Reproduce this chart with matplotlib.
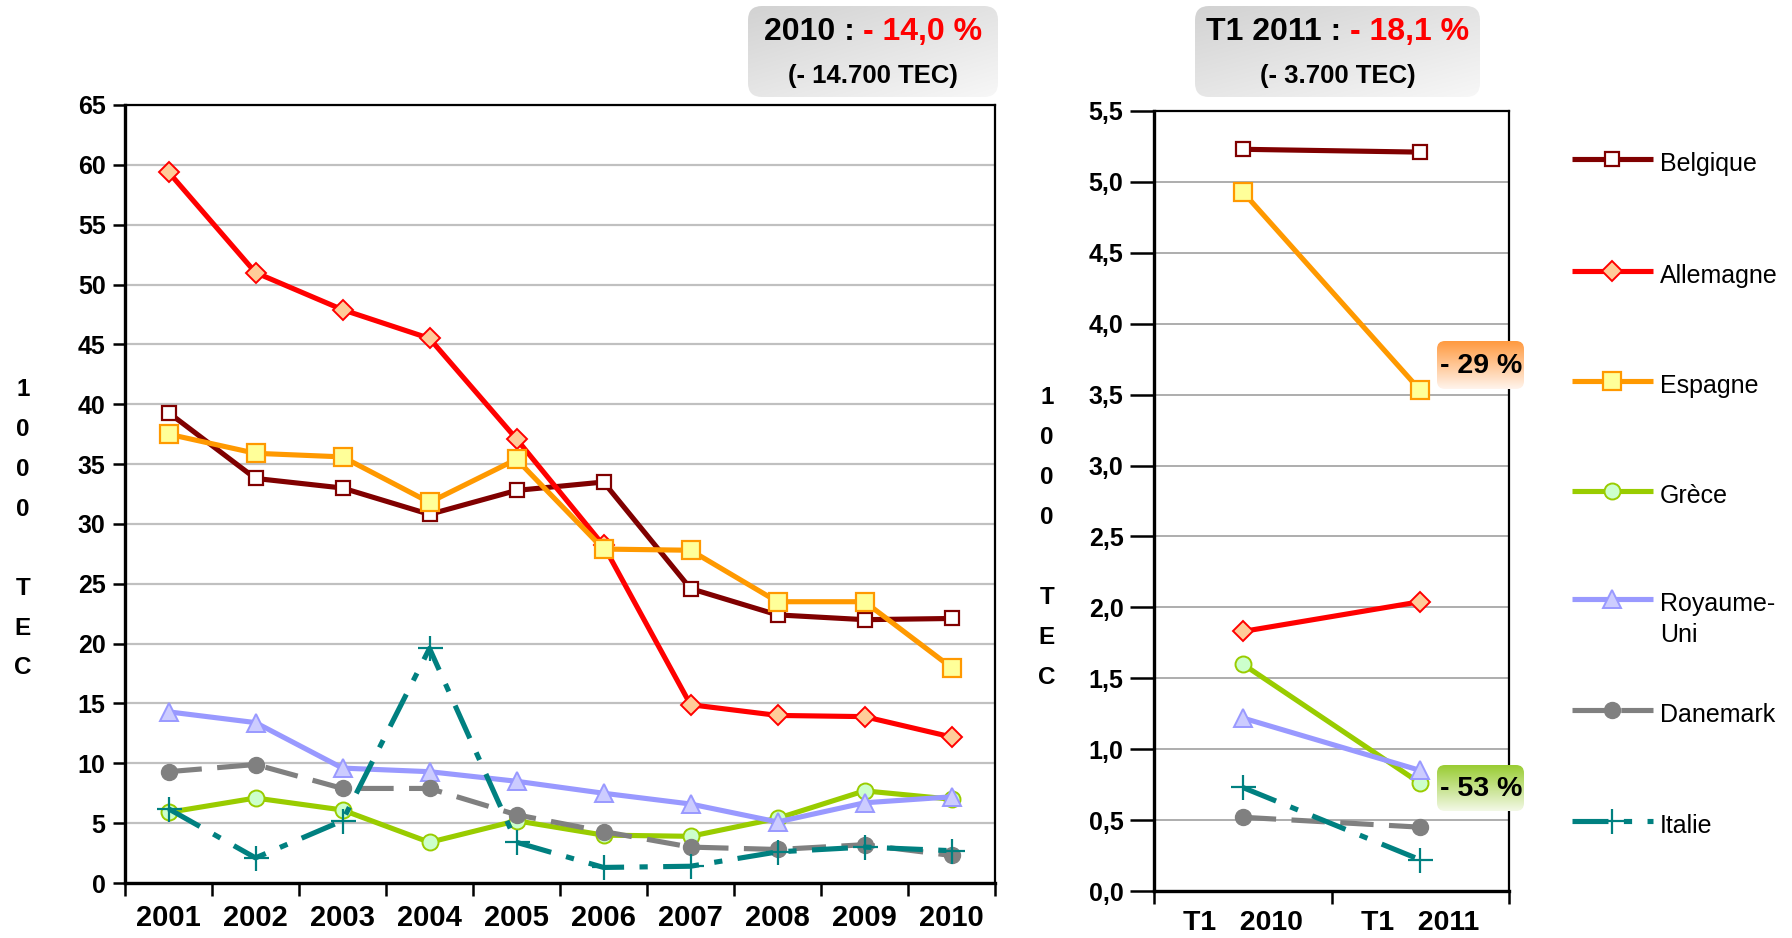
import numpy as np
import matplotlib
matplotlib.use('Agg')
import matplotlib.pyplot as plt
from matplotlib.patches import FancyBboxPatch
from matplotlib.colors import to_rgb

plt.rcParams['font.family'] = ['Liberation Sans', 'DejaVu Sans']

# ---------------- data ----------------
years = ['2001', '2002', '2003', '2004', '2005', '2006', '2007', '2008', '2009', '2010']
belgique = [39.3, 33.8, 33.0, 30.8, 32.8, 33.5, 24.6, 22.4, 22.0, 22.1]
allemagne = [59.4, 51.0, 47.9, 45.5, 37.1, 28.2, 14.9, 14.0, 13.9, 12.2]
espagne = [37.5, 35.9, 35.6, 31.8, 35.4, 27.9, 27.8, 23.5, 23.5, 18.0]
grece = [5.9, 7.1, 6.1, 3.4, 5.2, 4.0, 3.9, 5.4, 7.7, 7.0]
royaume_uni = [14.3, 13.4, 9.6, 9.3, 8.5, 7.5, 6.6, 5.1, 6.7, 7.2]
danemark = [9.3, 9.9, 7.9, 7.9, 5.7, 4.3, 3.0, 2.8, 3.2, 2.3]
italie = [6.2, 2.1, 5.2, 19.6, 3.4, 1.3, 1.4, 2.6, 3.0, 2.7]

quarters = ['T1   2010', 'T1   2011']
belgique_t1 = [5.23, 5.21]
allemagne_t1 = [1.83, 2.04]
espagne_t1 = [4.93, 3.53]
grece_t1 = [1.60, 0.76]
royaume_uni_t1 = [1.22, 0.85]
danemark_t1 = [0.52, 0.45]
italie_t1 = [0.73, 0.22]

names = ['Belgique', 'Allemagne', 'Espagne', 'Grèce', 'Royaume-\nUni', 'Danemark', 'Italie']
annual = [belgique, allemagne, espagne, grece, royaume_uni, danemark, italie]
quarterly = [belgique_t1, allemagne_t1, espagne_t1, grece_t1, royaume_uni_t1, danemark_t1, italie_t1]

title_left = [('2010 : ', 'black'), ('- 14,0 %', '#FF0000')]
sub_left = '(- 14.700 TEC)'
title_right = [('T1 2011 : ', 'black'), ('- 18,1 %', '#FF0000')]
sub_right = '(- 3.700 TEC)'
ann_es = '- 29 %'
ann_gr = '- 53 %'
ylabel_chars = ['1', '0', '0', '0', '', 'T', 'E', 'C']

LW = 3.7
styles = [
    dict(color='#800000', marker='s', mfc='white', mec='#800000', ms=10, mew=1.6, ls='-'),
    dict(color='#FF0000', marker='D', mfc='#FFCC99', mec='#FF0000', ms=10, mew=1.4, ls='-'),
    dict(color='#FF9900', marker='s', mfc='#FFFF99', mec='#FF9900', ms=12.5, mew=1.6, ls='-'),
    dict(color='#99CC00', marker='o', mfc='#CCFFCC', mec='#99CC00', ms=11.5, mew=1.4, ls='-'),
    dict(color='#9999FF', marker='^', mfc='#CCCCFF', mec='#9999FF', ms=12.5, mew=1.4, ls='-'),
    dict(color='#808080', marker='o', mfc='#808080', mec='#808080', ms=11.5, mew=1.0, ls=(0, (6.5, 3))),
    dict(color='#008080', marker='+', mfc='#008080', mec='#008080', ms=18, mew=1.6, ls=(0, (7, 3, 1.6, 3))),
]

W, H = 1792, 938
fig = plt.figure(figsize=(W / 100, H / 100), dpi=100)

def px_axes(x0, y0, x1, y1):
    return fig.add_axes([x0 / W, 1 - y1 / H, (x1 - x0) / W, (y1 - y0) / H])

ax1 = px_axes(125, 105, 995, 883)
ax2 = px_axes(1154, 111, 1509, 891)

# ---------------- left panel ----------------
x1 = np.arange(len(years))
for vals, st in zip(annual, styles):
    ax1.plot(x1, vals, lw=LW, solid_capstyle='butt', dash_capstyle='butt', clip_on=False, **st)
ax1.set_xlim(-0.5, len(years) - 0.5)
ax1.set_ylim(0, 65)
ax1.set_yticks(np.arange(0, 66, 5))
ax1.set_xticks(np.arange(-0.5, len(years), 1))
ax1.set_xticklabels([])
ax1.set_xticks(x1, minor=True)
ax1.set_xticklabels(years, minor=True)
ax1.tick_params(axis='x', which='major', direction='out', length=9, width=1.8)
ax1.tick_params(axis='x', which='minor', length=0, pad=15, labelsize=21)
ax1.tick_params(axis='y', direction='out', length=9, width=1.8, pad=5, labelsize=18)
ax1.yaxis.grid(True, color='#C0C0C0', lw=1.6)
ax1.set_axisbelow(True)

# ---------------- right panel ----------------
x2 = np.arange(len(quarters))
for vals, st in zip(quarterly, styles):
    ax2.plot(x2, vals, lw=LW, solid_capstyle='butt', dash_capstyle='butt', clip_on=False, **st)
ax2.set_xlim(-0.5, len(quarters) - 0.5)
ax2.set_ylim(0, 5.5)
yt2 = np.arange(0, 5.51, 0.5)
ax2.set_yticks(yt2)
ax2.set_yticklabels([f'{v:.1f}'.replace('.', ',') for v in yt2])
ax2.set_xticks(np.arange(-0.5, len(quarters), 1))
ax2.set_xticklabels([])
ax2.set_xticks(x2, minor=True)
ax2.set_xticklabels(quarters, minor=True)
ax2.tick_params(axis='x', which='major', direction='out', length=9, width=1.8)
ax2.tick_params(axis='x', which='minor', length=0, pad=14, labelsize=20.5)
ax2.tick_params(axis='y', direction='out', length=17, width=1.8, pad=5, labelsize=18)
ax2.yaxis.grid(True, color='#A0A0A0', lw=1.2)
ax2.set_axisbelow(True)

for ax in (ax1, ax2):
    for lab in ax.get_xticklabels(minor=True) + ax.get_yticklabels():
        lab.set_fontweight('bold')
    for s in ('left', 'bottom'):
        ax.spines[s].set_linewidth(2.4)
    for s in ('top', 'right'):
        ax.spines[s].set_linewidth(1.6)

# ---------------- overlay (pixel coordinates) ----------------
ov = fig.add_axes([0, 0, 1, 1], facecolor='none')
ov.set_xlim(0, W)
ov.set_ylim(H, 0)
ov.axis('off')

def gradient_box(x0, y0, x1_, y1_, c_top, c_bot, radius, diag=0.0):
    n = 64
    v = np.linspace(0, 1, n)[:, None]
    u = np.linspace(0, 1, n)[None, :]
    t = np.clip(v * (1 - diag) + u * diag, 0, 1)
    ct = np.array(to_rgb(c_top)); cb = np.array(to_rgb(c_bot))
    img = ct[None, None, :] * (1 - t[..., None]) + cb[None, None, :] * t[..., None]
    im = ov.imshow(img, extent=(x0, x1_, y1_, y0), aspect='auto', zorder=5, interpolation='bilinear')
    patch = FancyBboxPatch((x0, y0), x1_ - x0, y1_ - y0,
                           boxstyle=f'round,pad=0,rounding_size={radius}',
                           facecolor='none', edgecolor='none', zorder=5)
    ov.add_patch(patch)
    im.set_clip_path(patch)

def multi_color_text(xc, y, parts, fs):
    renderer = fig.canvas.get_renderer()
    texts, widths = [], []
    for s, c in parts:
        t = ov.text(0, y, s, color=c, fontsize=fs, fontweight='bold',
                    ha='left', va='center', zorder=6)
        widths.append(t.get_window_extent(renderer).width)
        texts.append(t)
    x = xc - sum(widths) / 2
    for t, w in zip(texts, widths):
        t.set_x(x)
        x += w

# title boxes
gradient_box(748, 6, 998, 97, '#D2D2D2', '#F7F7F7', 14, diag=0.45)
multi_color_text(873, 32, title_left, 23)
ov.text(873, 76, sub_left, fontsize=18.5, fontweight='bold', ha='center', va='center', zorder=6)

gradient_box(1195, 6, 1480, 97, '#D2D2D2', '#F7F7F7', 14, diag=0.45)
multi_color_text(1338, 32, title_right, 23)
ov.text(1338, 76, sub_right, fontsize=18.5, fontweight='bold', ha='center', va='center', zorder=6)

# percentage boxes
gradient_box(1437, 341, 1524, 389, '#FF9A40', '#FFF4EC', 8)
ov.text(1481, 366, ann_es, fontsize=20.5, fontweight='bold', ha='center', va='center', zorder=6)
gradient_box(1437, 765, 1524, 811, '#99CC33', '#F3F9E6', 8)
ov.text(1481, 789, ann_gr, fontsize=20.5, fontweight='bold', ha='center', va='center', zorder=6)

# vertical axis labels
for x_lab, y_first, y_last in ((23, 390, 668), (1047, 397, 677)):
    ys = np.linspace(y_first, y_last, len(ylabel_chars))
    for ch, yy in zip(ylabel_chars, ys):
        if ch:
            ov.text(x_lab, yy, ch, fontsize=17.5, fontweight='bold', ha='center', va='center')

# legend
leg_rows = [159, 271, 381, 491, 599, 710, 821]
for name, st, yy in zip(names, styles, leg_rows):
    ov.plot([1572, 1612, 1653], [yy, yy, yy], lw=LW, markevery=[1],
            solid_capstyle='butt', dash_capstyle='butt', **st)
    lines = name.split('\n')
    for k, ln in enumerate(lines):
        ov.text(1660, yy + 5 + k * 31, ln, fontsize=18, ha='left', va='center')

ov.set_xlim(0, W)
ov.set_ylim(H, 0)

fig.savefig('out.png', dpi=100)
